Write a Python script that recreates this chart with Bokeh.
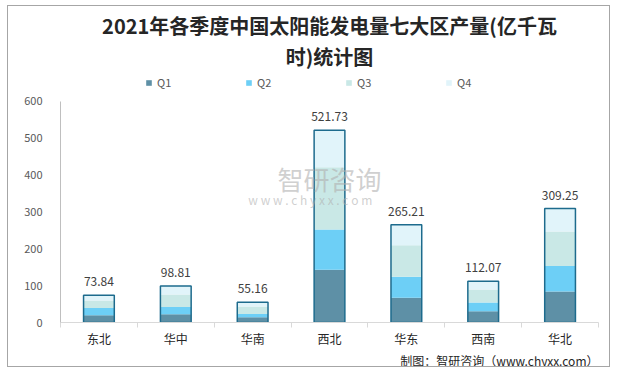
from bokeh.plotting import figure
from bokeh.models import (ColumnDataSource, Range1d, FixedTicker, Legend, LegendItem,
                          LabelSet, Label, Title)
from bokeh.embed import file_html
from bokeh.resources import INLINE
from bokeh.core.properties import value

regions = ["东北", "华中", "华南", "西北", "华东", "西南", "华北"]
q1 = [19.6, 22.3, 14.3, 142.9, 67.0, 30.4, 83.9]
q2 = [19.7, 19.7, 8.9, 109.8, 57.0, 24.1, 69.7]
q3 = [20.5, 34.0, 20.5, 168.7, 85.8, 34.8, 93.7]
q4 = [14.04, 22.81, 11.46, 100.33, 55.41, 22.77, 61.95]
totals = [73.84, 98.81, 55.16, 521.73, 265.21, 112.07, 309.25]
series = ["Q1", "Q2", "Q3", "Q4"]
colors = ["#5e90a6", "#6dcff6", "#c9e8e6", "#e1f4fa"]
yticks = [0, 100, 200, 300, 400, 500, 600]
title1 = "2021年各季度中国太阳能发电量七大区产量(亿千瓦"
title2 = "时)统计图"
footer = "制图：智研咨询（www.chyxx.com）"

FONT = "Noto Sans CJK SC"
YTOP = 684
xs = list(range(1, len(regions) + 1))
src = ColumnDataSource(dict(x=xs, Q1=q1, Q2=q2, Q3=q3, Q4=q4, total=totals,
                            label=["%.2f" % t for t in totals]))

p = figure(width=603, height=362, output_backend="svg", toolbar_location=None,
           x_range=Range1d(0.5, len(regions) + 0.5), y_range=Range1d(0, YTOP),
           min_border_left=52, min_border_right=13, min_border_bottom=46, min_border_top=64,
           border_fill_color="white")
p.styles = {"border": "1px solid #a6a6a6", "margin-left": "7px", "margin-top": "5px"}
p.outline_line_color = None
p.grid.visible = False

rs = p.vbar_stack(series, x="x", width=0.4, color=colors, line_color=None, source=src)
p.vbar(x="x", top="total", width=0.4, fill_color=None, line_color="#1d6b8d",
       line_width=1.5, source=src)

labels = LabelSet(x="x", y="total", text="label", source=src, text_align="center",
                  text_baseline="bottom", y_offset=9, text_font_size="12px",
                  text_color="#404040", text_font=value(FONT))
p.add_layout(labels)

# watermark
p.add_layout(Label(x=4.0, y=390, text="智研咨询", text_align="center", text_baseline="middle",
                   text_font_size="26px", text_color="#b0b0b0", text_alpha=0.6,
                   text_font=FONT))
p.add_layout(Label(x=3.75, y=335, text="w w w . c h y x x . c o m", text_align="center",
                   text_baseline="middle", text_font_size="12px", text_color="#b0b0b0",
                   text_alpha=0.6, text_font=FONT))

# axes
p.yaxis.ticker = FixedTicker(ticks=yticks)
p.yaxis.bounds = (0, 600)
p.yaxis.major_tick_line_color = None
p.yaxis.minor_tick_line_color = None
p.yaxis.axis_line_color = "#bfbfbf"
p.yaxis.major_label_standoff = 12
p.yaxis.major_label_text_font_size = "11px"
p.yaxis.major_label_text_color = "#595959"
p.yaxis.major_label_text_font = FONT

p.xaxis.ticker = FixedTicker(ticks=xs, minor_ticks=[x - 0.5 for x in xs] + [len(xs) + 0.5])
p.xaxis.major_label_overrides = {x: r for x, r in zip(xs, regions)}
p.xaxis.major_tick_line_color = None
p.xaxis.major_tick_out = 0
p.xaxis.major_tick_in = 0
p.xaxis.minor_tick_in = 0
p.xaxis.minor_tick_out = 5
p.xaxis.minor_tick_line_color = "#d9d9d9"
p.xaxis.axis_line_color = "#d9d9d9"
p.xaxis.major_label_standoff = 2
p.xaxis.major_label_text_font_size = "12px"
p.xaxis.major_label_text_color = "#262626"
p.xaxis.major_label_text_font = FONT

# footer
p.add_layout(Title(text=footer, align="right", text_font_size="12px",
                   text_font_style="normal", text_color="#262626", text_font=FONT,
                   offset=0, standoff=0), "below")

# legend (inside frame, above the bars)
legend = Legend(items=[LegendItem(label=s, renderers=[r]) for s, r in zip(series, rs)],
                orientation="horizontal", location=(85, 232), glyph_width=7, glyph_height=7,
                spacing=68, label_standoff=5, label_text_font_size="11px",
                label_text_color="#595959", label_text_font=FONT, border_line_color=None,
                background_fill_alpha=0, padding=2, margin=0, label_height=12)
p.add_layout(legend)

# titles
p.add_layout(Title(text=title2, align="center", text_font_size="20px",
                   text_font_style="bold", text_color="#262626", text_font=FONT,
                   standoff=0), "above")
p.add_layout(Title(text=title1, align="center", text_font_size="20px",
                   text_font_style="bold", text_color="#262626", text_font=FONT,
                   standoff=0), "above")

open("out.html", "w").write(file_html(p, INLINE))
